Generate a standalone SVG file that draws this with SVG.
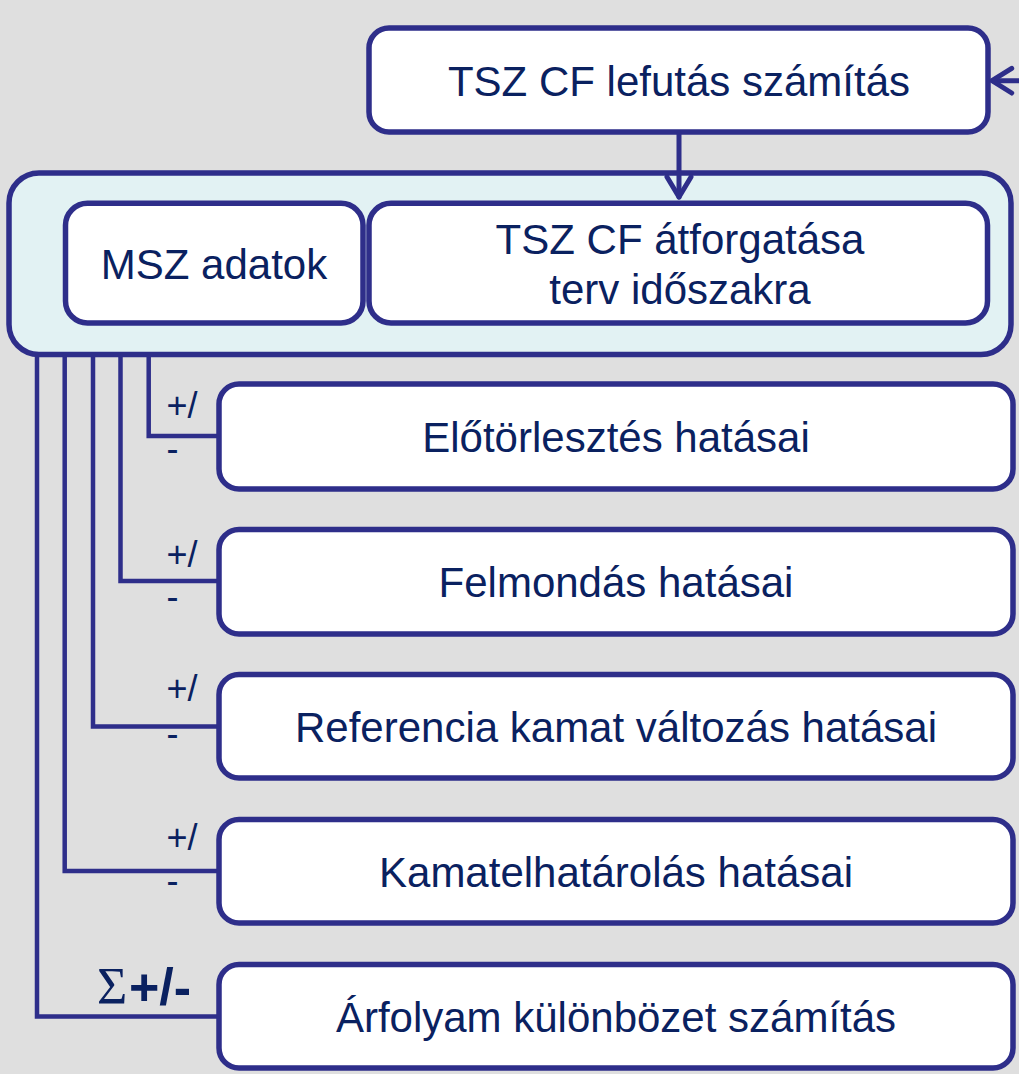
<svg xmlns="http://www.w3.org/2000/svg" width="1019" height="1074" viewBox="0 0 1019 1074">
<defs>
<style>
.box{fill:#FFFFFF;stroke:#2E2E8A;stroke-width:5.5}
.cont{fill:#E2F2F3;stroke:#2E2E8A;stroke-width:5.5}
.t{font-family:"Liberation Sans",Arial,sans-serif;font-size:42px;fill:#0A2160;text-anchor:middle}
.pm{font-family:"Liberation Sans",Arial,sans-serif;font-size:36px;fill:#0A2160}
.ln{fill:none;stroke:#2E2E8A;stroke-width:4.5}
.ar{fill:none;stroke:#2E2E8A;stroke-width:5;stroke-linecap:round;stroke-linejoin:round}
</style>
</defs>
<rect x="0" y="0" width="1019" height="1074" fill="#DFDFDF"/>

<g id="connectors">
<path class="ln" d="M148.7 355 V436 H219"/>
<path class="ln" d="M120.5 355 V581 H219"/>
<path class="ln" d="M93 355 V726.5 H219"/>
<path class="ln" d="M64.7 355 V871 H219"/>
<path class="ln" d="M37 355 V1016.5 H219"/>
</g>

<g id="container">
<rect class="cont" x="9" y="173" width="1002" height="181.5" rx="30"/>
</g>

<g id="top">
<rect class="box" x="369" y="28" width="619" height="104" rx="20"/>
<text class="t" x="679" y="96">TSZ CF lefutás számítás</text>
</g>

<g id="msz">
<rect class="box" x="65.5" y="203.3" width="297.5" height="119.7" rx="22"/>
<text class="t" x="214" y="279">MSZ adatok</text>
</g>

<g id="atforg">
<rect class="box" x="369" y="203.3" width="618.5" height="119.7" rx="22"/>
<text class="t" x="680" y="254">TSZ CF átforgatása</text>
<text class="t" x="680" y="304">terv időszakra</text>
</g>

<g id="arrows">
<path class="ar" d="M679 134 V197"/>
<path class="ar" d="M667 177 L679 197 L691 177"/>
<path class="ar" d="M1019 80.7 H993"/>
<path class="ar" d="M1011.7 68.3 L992 80.7 L1011.7 93"/>
</g>

<g id="elotorl">
<rect class="box" x="219" y="384" width="794" height="105" rx="20"/>
<text class="t" x="616" y="452">Előtörlesztés hatásai</text>
<text class="pm" x="166.5" y="417.5">+/</text>
<text class="pm" x="166.5" y="461">-</text>
</g>

<g id="felmond">
<rect class="box" x="219" y="529.5" width="794" height="104.5" rx="20"/>
<text class="t" x="616" y="597">Felmondás hatásai</text>
<text class="pm" x="166.5" y="566.5">+/</text>
<text class="pm" x="166.5" y="609">-</text>
</g>

<g id="referencia">
<rect class="box" x="219" y="674.5" width="794" height="103.5" rx="20"/>
<text class="t" x="616" y="742">Referencia kamat változás hatásai</text>
<text class="pm" x="166.5" y="701">+/</text>
<text class="pm" x="166.5" y="746">-</text>
</g>

<g id="kamatelh">
<rect class="box" x="219" y="819.5" width="794" height="103.5" rx="20"/>
<text class="t" x="616" y="887">Kamatelhatárolás hatásai</text>
<text class="pm" x="166.5" y="850">+/</text>
<text class="pm" x="166.5" y="893">-</text>
</g>

<g id="arfolyam">
<rect class="box" x="219" y="964.5" width="794" height="103.5" rx="20"/>
<text class="t" x="616" y="1032">Árfolyam különbözet számítás</text>
<text x="97" y="1004" style="font-family:'Liberation Serif','Times New Roman',serif;font-size:52px;fill:#0A2160">Σ</text>
<text x="129" y="1005" style="font-family:'Liberation Sans',Arial,sans-serif;font-size:52px;font-weight:bold;fill:#0A2160">+/-</text>
</g>
</svg>
